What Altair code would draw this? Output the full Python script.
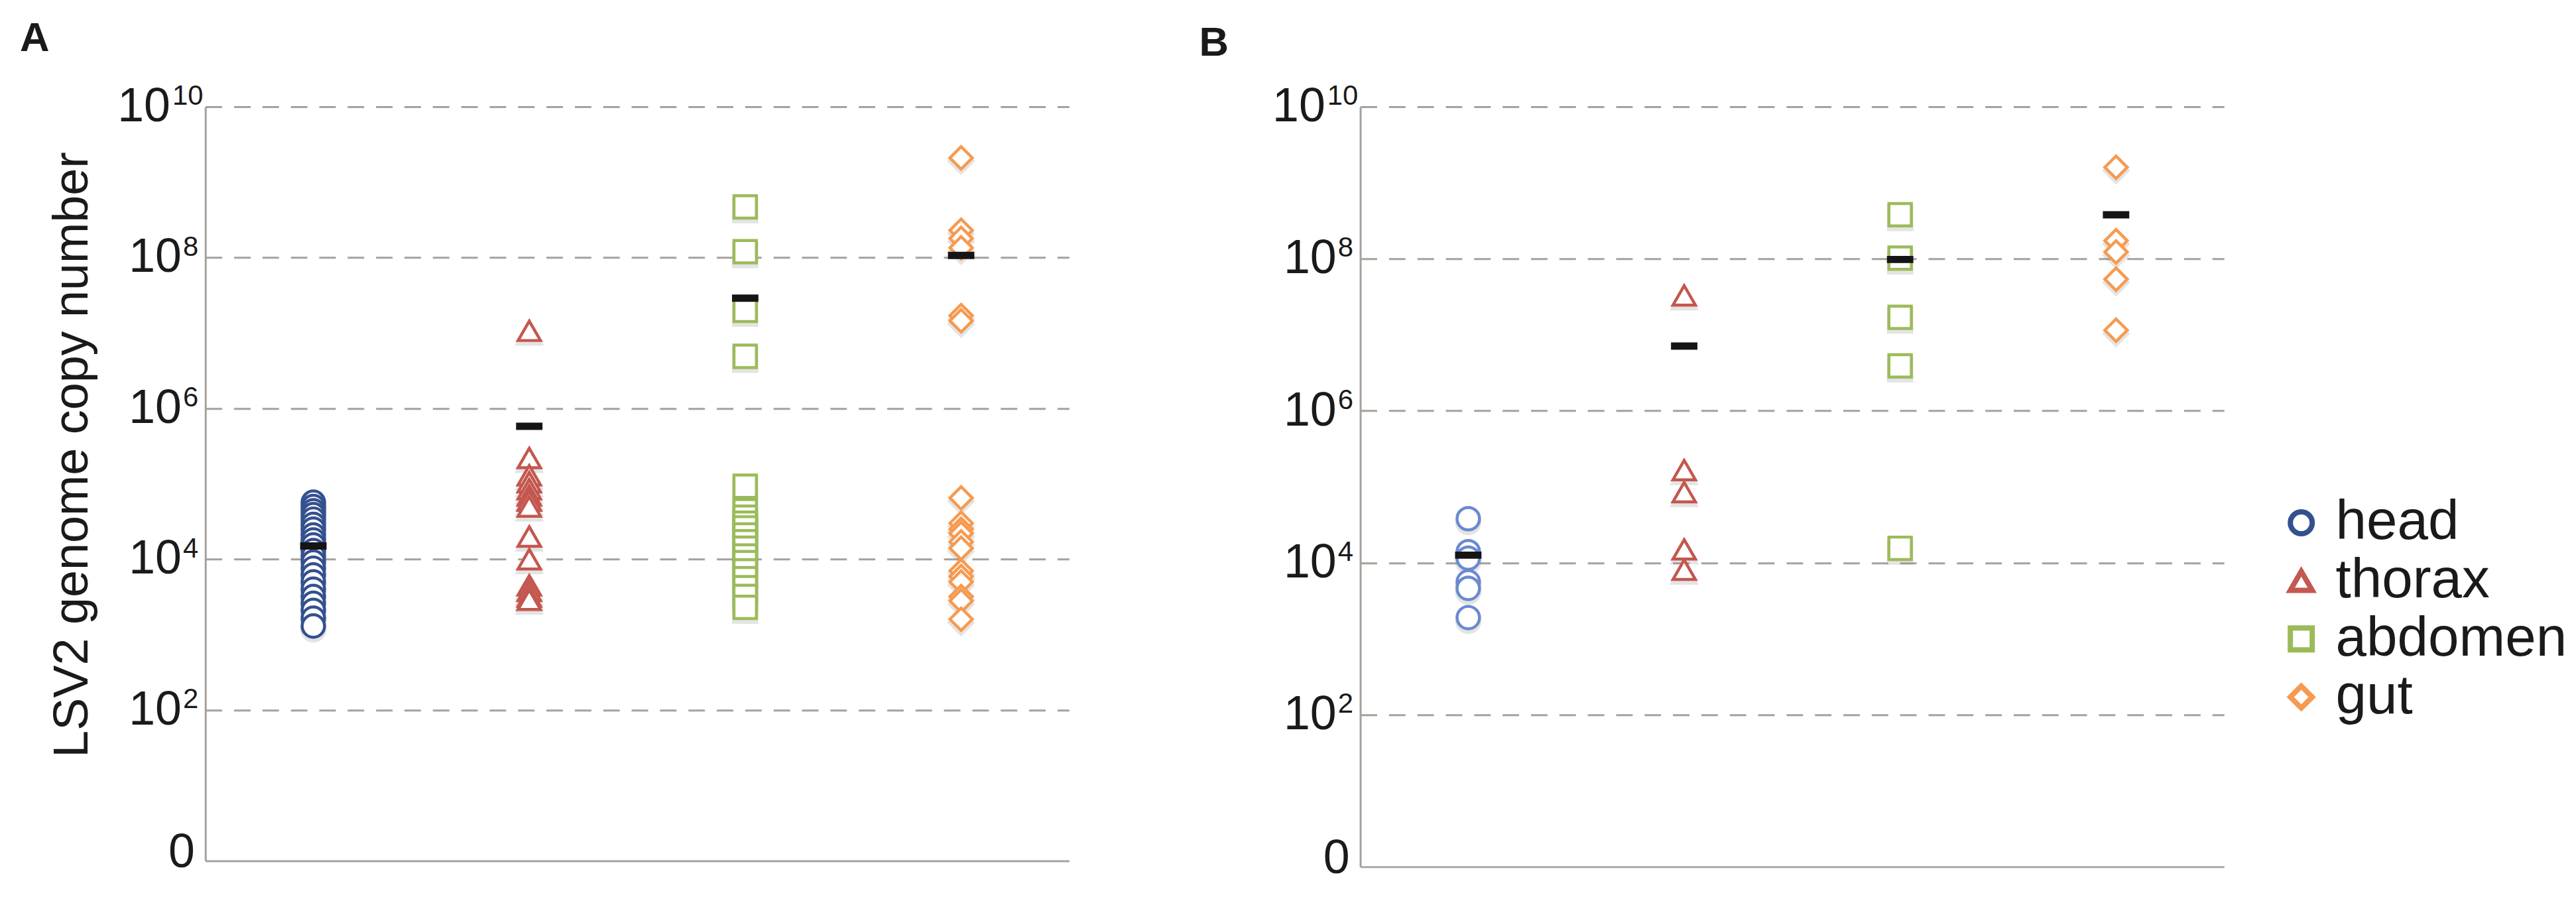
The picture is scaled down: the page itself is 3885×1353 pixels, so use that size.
import altair as alt
import pandas as pd

cats = ["head", "thorax", "abdomen", "gut"]
colors = ["#34508f", "#c4574f", "#9bbb59", "#f79a4f"]
shapes = ["circle", "triangle-up", "square", "diamond"]
b_head_color = "#6a8ad0"

# Panel A values (genome copies)
a_head = [57000, 50000, 44000, 39000, 34000, 29000, 25000, 21000, 18000, 15500, 13000,
          11000, 9200, 7600, 6200, 5000, 4000, 3200, 2600, 2100, 1650, 1300]
a_thorax = [1.07e7, 2.2e5, 1.3e5, 1.05e5, 8.5e4, 7e4, 6e4, 5e4, 2e4, 1e4, 4.5e3, 3.8e3, 3.2e3, 2.9e3]
a_abdomen = [4.7e8, 1.2e8, 2.0e7, 4.9e6, 9.3e4, 4.4e4, 3.6e4, 3.0e4, 2.6e4, 2.1e4, 1.7e4,
             1.4e4, 1.1e4, 9.0e3, 7.0e3, 5.5e3, 4.2e3, 3.2e3, 2.3e3]
a_gut = [2.1e9, 2.3e8, 1.8e8, 1.35e8, 1.7e7, 1.45e7, 6.5e4, 3.0e4, 2.5e4, 2.2e4, 1.7e4,
         1.4e4, 7.0e3, 5.9e3, 5.0e3, 3.2e3, 2.8e3, 1.6e3]
a_means = [1.5e4, 5.8e5, 2.9e7, 1.07e8]

# Panel B values
b_head = [3.8e4, 1.4e4, 1.15e4, 5.6e3, 4.6e3, 1.9e3]
b_thorax = [3.3e7, 1.66e5, 8.5e4, 1.5e4, 8.1e3]
b_abdomen = [3.8e8, 1.02e8, 1.7e7, 3.9e6, 1.55e4]
b_gut = [1.6e9, 1.73e8, 1.23e8, 5.4e7, 1.15e7]
b_means = [1.26e4, 7.1e6, 9.8e7, 3.8e8]

grid_vals = [1e2, 1e4, 1e6, 1e8, 1e10]
grid_exps = ["2", "4", "6", "8", "10"]
zero_label = "0"
y_title = "LSV2 genome copy number"

FONT = "Liberation Sans"
GRAY = "#a7a19c"
TXT = "#1a1a1a"


def points_df(lists):
    rows = []
    for c, vals in zip(cats, lists):
        for v in vals:
            rows.append({"cat": c, "v": v})
    return pd.DataFrame(rows)


yscale = alt.Scale(type="log", domain=[1, 1e10], nice=False)
xscale = alt.Scale(domain=cats, paddingInner=0, paddingOuter=0)
xaxis = alt.Axis(title=None, labels=False, ticks=False, grid=False,
                 domainColor=GRAY, domainWidth=3)
yaxis = alt.Axis(title=None, labels=False, ticks=False, values=grid_vals, grid=True,
                 gridDash=[25, 18], gridColor=GRAY, gridWidth=3,
                 domainColor=GRAY, domainWidth=3)

legend = alt.Legend(title=None, orient="none", legendX=3132, legendY=588,
                    labelFontSize=84, labelFont=FONT, labelColor=TXT, labelLimit=0,
                    symbolSize=1100, symbolStrokeWidth=8, symbolFillColor="white",
                    symbolOpacity=1, rowPadding=4, labelOffset=10, padding=0)

color_enc = alt.Color("cat:N", scale=alt.Scale(domain=cats, range=colors), legend=legend)
shape_enc = alt.Shape("cat:N", scale=alt.Scale(domain=cats, range=shapes), legend=legend)


def panel(lists, means, height, label, label_x, label_y, head_override=None, title=False):
    df = points_df(lists)
    X = alt.X("cat:N", scale=xscale, axis=xaxis)
    Y = alt.Y("v:Q", scale=yscale, axis=yaxis)
    if head_override:
        col = alt.condition("datum.cat == 'head'", alt.value(head_override), color_enc)
    else:
        col = color_enc
    shadow = alt.Chart(df).mark_point(filled=False, size=1156, strokeWidth=6, color="#8a8a8a",
                                      opacity=0.22, yOffset=5).encode(x=X, y=Y, shape=shape_enc)
    pts = alt.Chart(df).mark_point(filled=False, fill="white", size=1156, strokeWidth=4.5,
                                   opacity=1).encode(x=X, y=Y, color=col, shape=shape_enc)
    mdf = pd.DataFrame({"cat": cats, "v": means})
    bars = alt.Chart(mdf).mark_tick(color="#151515", thickness=11, size=40, opacity=1).encode(x=X, y=Y)

    ldf = pd.DataFrame({"v": grid_vals, "e": grid_exps, "b": ["10"] * len(grid_vals)})
    one = ldf[ldf["e"] != "10"]
    two = ldf[ldf["e"] == "10"]
    big1 = alt.Chart(one).mark_text(align="right", baseline="middle", fontSize=72, font=FONT,
                                    color=TXT, dx=-36, dy=0).encode(
        x=alt.value(0), y=alt.Y("v:Q", scale=yscale, axis=yaxis), text="b:N")
    sup1 = alt.Chart(one).mark_text(align="left", baseline="middle", fontSize=42, font=FONT,
                                    color=TXT, dx=-34, dy=-16).encode(
        x=alt.value(0), y=alt.Y("v:Q", scale=yscale, axis=yaxis), text="e:N")
    big2 = alt.Chart(two).mark_text(align="right", baseline="middle", fontSize=72, font=FONT,
                                    color=TXT, dx=-53, dy=0).encode(
        x=alt.value(0), y=alt.Y("v:Q", scale=yscale, axis=yaxis), text="b:N")
    sup2 = alt.Chart(two).mark_text(align="left", baseline="middle", fontSize=42, font=FONT,
                                    color=TXT, dx=-50, dy=-16).encode(
        x=alt.value(0), y=alt.Y("v:Q", scale=yscale, axis=yaxis), text="e:N")
    zdf = pd.DataFrame({"v": [1], "t": [zero_label]})
    zero = alt.Chart(zdf).mark_text(align="right", baseline="middle", fontSize=72, font=FONT,
                                    color=TXT, dx=-16, dy=-12).encode(
        x=alt.value(0), y=alt.Y("v:Q", scale=yscale, axis=yaxis), text="t:N")
    pdf = pd.DataFrame({"t": [label]})
    plab = alt.Chart(pdf).mark_text(align="left", baseline="top", fontSize=62, font=FONT,
                                    fontWeight="bold", color=TXT).encode(
        x=alt.value(label_x), y=alt.value(label_y), text="t:N")
    layers = [shadow, pts, bars, big1, sup1, big2, sup2, zero, plab]
    if title:
        tdf = pd.DataFrame({"t": [y_title]})
        tt = alt.Chart(tdf).mark_text(align="center", baseline="middle", fontSize=74, font=FONT,
                                      color=TXT, angle=270).encode(
            x=alt.value(-200), y=alt.value(527), text="t:N")
        layers.append(tt)
    return alt.layer(*layers).properties(width=1308, height=height)


A = panel([a_head, a_thorax, a_abdomen, a_gut], a_means, 1142, "A", -281, -133, title=True)
B = panel([b_head, b_thorax, b_abdomen, b_gut], b_means, 1151, "B", -244, -126,
          head_override=b_head_color)

chart = alt.hconcat(A, B, spacing=197).resolve_scale(color="shared", shape="shared").properties(
    padding={"left": 22, "top": 17, "right": 5, "bottom": 5}
).configure_view(strokeWidth=0)

chart.save("out.html", embed_options={"renderer": "svg", "actions": False})
